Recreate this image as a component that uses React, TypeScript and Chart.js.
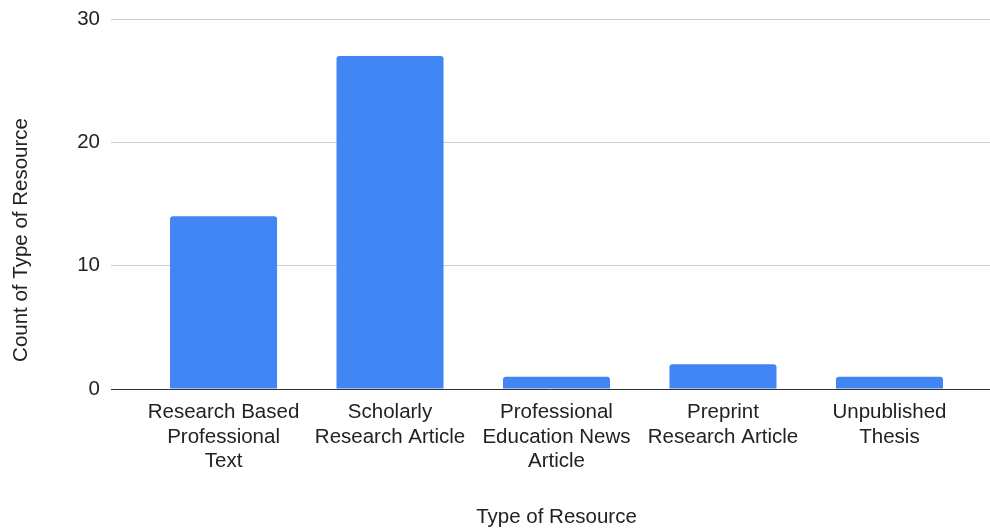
import React, { useEffect, useRef } from "react";
import { Chart, registerables } from "chart.js";

Chart.register(...registerables);

const categories: string[][] = [
  ["Research Based", "Professional", "Text"],
  ["Scholarly", "Research Article"],
  ["Professional", "Education News", "Article"],
  ["Preprint", "Research Article"],
  ["Unpublished", "Thesis"],
];
const counts: number[] = [14, 27, 1, 2, 1];
const yTicks: number[] = [0, 10, 20, 30];
const xTitle = "Type of Resource";
const yTitle = "Count of Type of Resource";

const FONT = '"Liberation Sans", Arial, sans-serif';
const FONT_SIZE = 20.5;
const TEXT = "#222222";
const BAR = "#4285F4";

const titlePlugin = {
  id: "axisTitles",
  afterDraw(chart: any) {
    const { ctx, chartArea, scales } = chart;
    ctx.save();
    ctx.font = `${FONT_SIZE}px ${FONT}`;
    ctx.fillStyle = TEXT;
    ctx.textAlign = "center";
    ctx.textBaseline = "middle";
    const x0 = scales.x.getPixelForValue(0);
    const x1 = scales.x.getPixelForValue(categories.length - 1);
    ctx.fillText(xTitle, (x0 + x1) / 2, chart.height - 12);
    ctx.translate(21, (chartArea.top + chartArea.bottom) / 2 + 36);
    ctx.rotate(-Math.PI / 2);
    ctx.fillText(yTitle, 0, 0);
    ctx.restore();
  },
};

export default function App() {
  const ref = useRef<HTMLCanvasElement | null>(null);
  useEffect(() => {
    document.body.style.margin = "0";
    const canvas = ref.current;
    if (!canvas) return;
    const chart = new Chart(canvas, {
      type: "bar",
      data: {
        datasets: [
          {
            label: yTitle,
            data: counts.map((v, i) => ({ x: i, y: v })),
            backgroundColor: BAR,
            borderRadius: 3,
            borderSkipped: "start",
            categoryPercentage: 1,
            barPercentage: 0.643,
          },
        ],
      },
      options: {
        responsive: false,
        animation: false,
        layout: { padding: { top: 19, left: 0, right: 0, bottom: 0 } },
        plugins: {
          legend: { display: false },
          tooltip: { enabled: false },
          title: { display: false },
        },
        scales: {
          x: {
            type: "linear",
            offset: false,
            min: -0.676,
            max: 4.604,
            grid: { display: false, drawTicks: false, offset: false },
            border: { display: false },
            afterBuildTicks: (s: any) => {
              s.ticks = categories.map((_, i) => ({ value: i }));
            },
            afterFit: (s: any) => {
              s.height = 140;
              s.paddingLeft = 0;
              s.paddingRight = 0;
            },
            ticks: {
              autoSkip: false,
              maxRotation: 0,
              minRotation: 0,
              padding: 11,
              color: TEXT,
              font: { family: FONT, size: FONT_SIZE, lineHeight: 1.2 },
              callback: (v: any) => {
                const i = Math.round(Number(v));
                return categories[i] ?? "";
              },
            },
          },
          y: {
            type: "linear",
            min: yTicks[0],
            max: yTicks[yTicks.length - 1],
            grid: {
              drawTicks: false,
              color: (c: any) => (c.tick && c.tick.value === 0 ? "#333333" : "#cccccc"),
              lineWidth: 1,
            },
            border: { display: false },
            afterBuildTicks: (s: any) => {
              s.ticks = yTicks.map((v) => ({ value: v }));
            },
            afterFit: (s: any) => {
              s.width = 111;
              s.paddingTop = 0;
              s.paddingBottom = 0;
            },
            ticks: {
              padding: 11,
              color: TEXT,
              font: { family: FONT, size: FONT_SIZE, lineHeight: 1.2 },
            },
          },
        },
      },
      plugins: [titlePlugin],
    });
    return () => chart.destroy();
  }, []);
  return (
    <div style={{ width: 990, height: 529 }}>
      <canvas ref={ref} width={990} height={529} style={{ display: "block" }} />
    </div>
  );
}
